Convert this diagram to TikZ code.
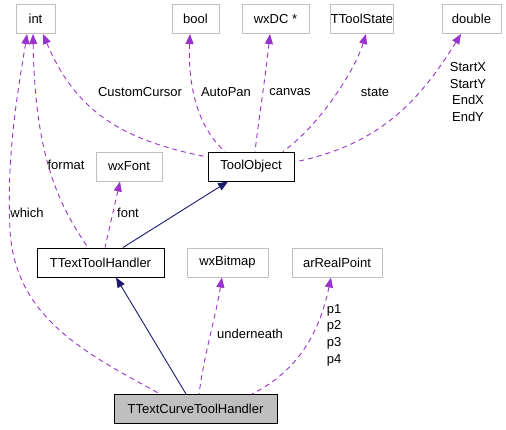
\documentclass[tikz,border=0pt]{standalone}
\usepackage{fontspec}
\setmainfont{Liberation Sans}
\usetikzlibrary{arrows.meta}
\definecolor{attrpurple}{HTML}{9A32CD}
\definecolor{basenavy}{HTML}{191970}
\definecolor{typegray}{HTML}{BFBFBF}

\begin{document}
\begin{tikzpicture}[x=1pt, y=-1pt,
				every node/.style={font=\fontsize{13}{16.7}\selectfont, inner sep=0pt},
				typebox/.style={draw=typegray, line width=1pt, minimum height=29pt},
				classbox/.style={draw=black, line width=1pt, minimum height=29pt},
				attredge/.style={attrpurple, line width=0.9pt, dash pattern=on 5pt off 4pt, {Triangle[length=10pt, width=8pt]}-},
				baseedge/.style={basenavy, line width=0.9pt, {Triangle[length=10pt, width=8pt]}-}
				]
				\useasboundingbox (0,0) rectangle (506,429);
				\node[typebox, minimum width=39pt] (int) at (35.5,19) {int};
				\node[typebox, minimum width=47pt] (bool) at (195.5,19) {bool};
				\node[typebox, minimum width=67pt] (wxdc) at (275.5,19) {wxDC *};
				\node[typebox, minimum width=60pt] (toolstate) at (362,19) {TToolState};
				\node[typebox, minimum width=59pt] (double) at (471.5,19) {double};
				\node[classbox, minimum width=86pt] (toolobj) at (251,166.5) {ToolObject};
				\node[typebox, minimum width=66pt] (wxfont) at (129,166.5) {wxFont};
				\node[classbox, minimum width=127pt] (texthandler) at (100.5,262.5) {TTextToolHandler};
				\node[typebox, minimum width=81pt] (wxbitmap) at (227.5,262.5) {wxBitmap};
				\node[typebox, minimum width=90pt] (realpoint) at (337,262.5) {arRealPoint};
				\node[classbox, fill=typegray, minimum width=163pt] (curvehandler) at (195.5,409) {TTextCurveToolHandler};

				\draw[attredge] ([xshift=-8.5pt]int.south) .. controls (20,80) and (6,150) .. (10,230)
					.. controls (15,320) and (90,355) .. ([xshift=-35.5pt]curvehandler.north);
				\draw[attredge] ([xshift=-2.5pt]int.south) .. controls (35,150) and (55,200) .. ([xshift=-12.5pt]texthandler.north);
				\draw[attredge] ([xshift=7.5pt]int.south) .. controls (75,110) and (120,140) .. ([yshift=9.5pt]toolobj.west);
				\draw[attredge] ([xshift=-5.5pt]bool.south) .. controls (188,80) and (195,125) .. ([xshift=-26pt]toolobj.north);
				\draw[attredge] ([xshift=-5.5pt]wxdc.south) .. controls (265,80) and (258,125) .. ([xshift=4pt]toolobj.north);
				\draw[attredge] ([xshift=4pt]toolstate.south) .. controls (355,70) and (320,125) .. ([xshift=32pt]toolobj.north);
				\draw[attredge] ([xshift=-10.5pt]double.south) .. controls (420,100) and (380,145) .. ([yshift=4.5pt]toolobj.east);
				\draw[baseedge] ([xshift=-23pt]toolobj.south) -- ([xshift=22.5pt]texthandler.north);
				\draw[attredge] ([xshift=-9pt]wxfont.south) -- ([xshift=4.5pt]texthandler.north);
				\draw[baseedge] ([xshift=15.5pt]texthandler.south) -- ([xshift=-9.5pt]curvehandler.north);
				\draw[attredge] ([xshift=-5.5pt]wxbitmap.south) .. controls (215,320) and (205,350) .. ([xshift=3.5pt]curvehandler.north);
				\draw[attredge] ([xshift=-6pt]realpoint.south) .. controls (320,330) and (300,370) .. ([xshift=56.5pt]curvehandler.north);

				\node (lwhich) at (27,213) {which};
				\node (lformat) at (66,165) {format};
				\node (lcursor) at (140,92) {CustomCursor};
				\node (lautopan) at (226,92) {AutoPan};
				\node (lcanvas) at (290,92) {canvas};
				\node (lstate) at (375,92) {state};
				\node[align=center] (lcoords) at (468,92) {StartX\\StartY\\EndX\\EndY};
				\node (lfont) at (128,213) {font};
				\node (lunder) at (250,334) {underneath};
				\node[align=left] (lpoints) at (334,335) {p1\\p2\\p3\\p4};
			\end{tikzpicture}
\end{document}
